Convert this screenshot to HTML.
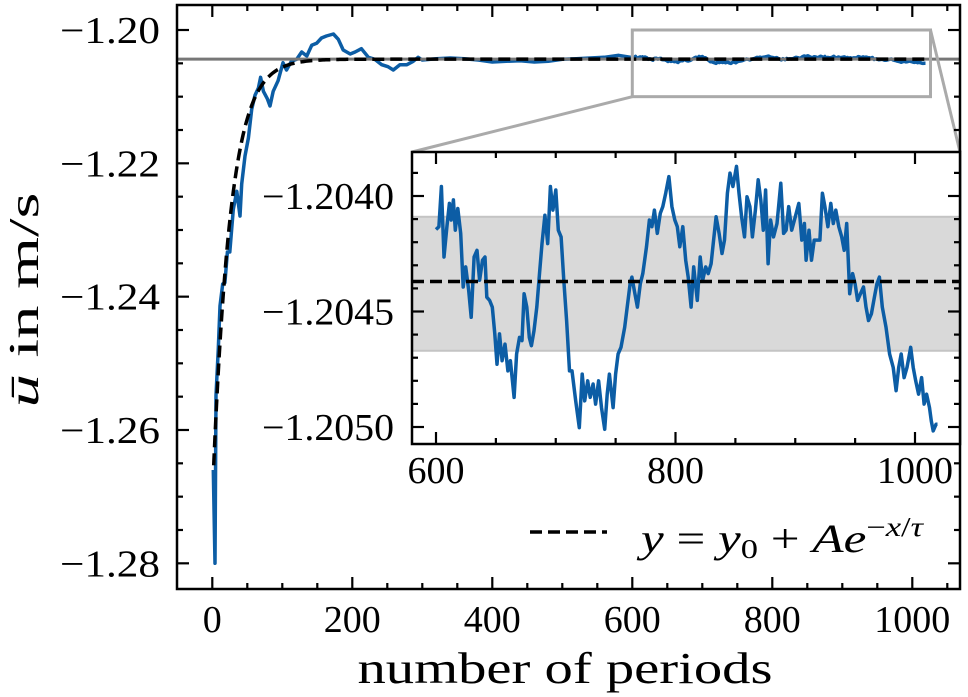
<!DOCTYPE html>
<html><head><meta charset="utf-8"><style>
html,body{margin:0;padding:0;background:#fff;}
svg{display:block;font-family:"Liberation Serif",serif;}
</style></head><body>
<svg id="chart" width="968" height="697" viewBox="0 0 968 697" xmlns="http://www.w3.org/2000/svg"></svg>
<script>
const mainX=[1.4,3.9,5.3,8.6,11,14.8,18,21.5,25,30,35,39.6,42,46.7,51.5,56.3,61,65.8,69,73,78.6,82.4,87,94,101,106,113,120.6,127.7,135,142,149,156,163,173,180,187,197,204,213,223,232,242,251,258.6,268,278,287,294,300,320,340,360,380,400,420,440,460,480,500,520,540,560,580,598];
const mainY=[-1.2660,-1.2800,-1.2548,-1.2478,-1.2414,-1.2381,-1.2379,-1.2333,-1.2333,-1.2269,-1.2242,-1.2279,-1.2231,-1.2189,-1.2162,-1.2119,-1.2098,-1.2087,-1.2071,-1.2092,-1.2103,-1.2114,-1.2092,-1.2076,-1.2049,-1.2060,-1.2047,-1.2044,-1.2033,-1.2039,-1.2023,-1.2020,-1.2012,-1.2009,-1.2006,-1.2014,-1.2030,-1.2036,-1.2033,-1.2028,-1.2041,-1.2044,-1.2052,-1.2055,-1.2060,-1.2052,-1.2052,-1.2047,-1.2041,-1.2045,-1.2043,-1.2042,-1.2043,-1.2045,-1.2048,-1.2047,-1.2046,-1.2048,-1.2047,-1.2044,-1.2043,-1.2042,-1.2041,-1.2038,-1.2041];
const insetX=[600,602.4,604.5,606.7,609.1,611.2,612.7,614.5,616.1,618.2,620.6,622.7,624.8,627.3,629.4,631.8,634.2,636.4,638.8,640.9,642.4,644.8,647.0,649.1,650.9,653.0,655.2,657.6,660.0,662.1,665.2,667.3,669.7,671.8,673.6,675.8,677.9,679.7,681.8,684.2,686.4,688.5,690.9,693.3,695.5,697.6,700.0,702.1,704.5,706.7,709.1,711.5,713.6,716.7,719.7,722.1,724.2,726.7,728.8,731.2,733.3,735.8,738.2,740.9,743.0,744.8,747.9,750.0,752.1,754.5,757.6,760.0,762.1,763.6,766.1,768.2,770.6,772.7,775.8,778.2,780.3,782.4,784.8,787.3,789.4,791.8,794.5,797.0,799.4,801.5,803.6,806.1,808.5,810.6,813.0,815.2,818.2,820.6,822.7,825.2,827.3,829.7,831.8,833.9,836.4,838.8,840.9,843.3,845.5,847.9,849.4,850.9,853.0,855.2,857.6,859.7,862.1,864.2,866.7,869.1,871.2,873.3,875.2,877.3,879.4,881.8,884.8,887.9,890.3,892.4,894.5,897.0,900.0,903.0,905.5,907.6,909.1,911.5,913.6,915.8,918.2,920.6,922.7,924.8,927.3,929.7,931.8,933.9,936.4,938.8,940.9,943.0,945.5,947.9,950.0,952.1,954.5,957.0,959.1,961.2,963.6,966.1,968.2,970.3,972.7,975.8,978.8,981.8,984.2,986.4,988.5,990.9,993.3,996.4,998.5,1000.6,1003.0,1005.5,1007.6,1009.7,1012.1,1013.6,1015.2,1017.6,1018.8];
const insetY=[-1.204145,-1.204133,-1.203959,-1.204264,-1.204133,-1.204032,-1.204104,-1.204017,-1.204148,-1.204054,-1.204162,-1.204394,-1.204307,-1.204409,-1.204525,-1.204264,-1.204235,-1.204365,-1.204278,-1.204264,-1.204438,-1.204452,-1.204481,-1.204597,-1.204728,-1.204597,-1.204713,-1.204641,-1.204757,-1.204713,-1.204872,-1.204684,-1.204612,-1.204626,-1.204423,-1.204481,-1.204612,-1.204648,-1.204583,-1.204481,-1.204336,-1.204206,-1.204083,-1.204206,-1.203959,-1.204061,-1.203974,-1.204148,-1.204177,-1.204365,-1.204539,-1.204757,-1.204757,-1.204887,-1.205003,-1.204771,-1.204887,-1.204800,-1.204872,-1.204814,-1.204901,-1.204800,-1.204916,-1.205010,-1.204858,-1.204771,-1.204916,-1.204771,-1.204684,-1.204655,-1.204568,-1.204467,-1.204380,-1.204351,-1.204423,-1.204481,-1.204380,-1.204336,-1.204220,-1.204104,-1.204133,-1.204061,-1.204162,-1.204075,-1.204046,-1.203988,-1.203916,-1.204046,-1.204104,-1.204133,-1.204220,-1.204133,-1.204278,-1.204351,-1.204481,-1.204307,-1.204452,-1.204264,-1.204365,-1.204307,-1.204336,-1.204293,-1.204191,-1.204090,-1.204162,-1.204249,-1.204191,-1.203988,-1.203901,-1.203959,-1.203916,-1.203872,-1.203988,-1.204090,-1.204177,-1.204003,-1.204046,-1.204177,-1.204061,-1.203930,-1.204017,-1.204148,-1.203974,-1.204293,-1.204104,-1.204177,-1.204119,-1.203945,-1.204162,-1.204148,-1.204046,-1.204148,-1.204090,-1.204032,-1.204191,-1.204119,-1.204278,-1.204148,-1.204278,-1.204191,-1.204191,-1.204191,-1.203988,-1.204046,-1.204133,-1.204032,-1.204119,-1.204061,-1.204133,-1.204177,-1.204235,-1.204119,-1.204423,-1.204336,-1.204380,-1.204452,-1.204423,-1.204394,-1.204481,-1.204539,-1.204510,-1.204438,-1.204380,-1.204351,-1.204481,-1.204568,-1.204684,-1.204742,-1.204843,-1.204742,-1.204684,-1.204786,-1.204742,-1.204655,-1.204742,-1.204800,-1.204858,-1.204786,-1.204901,-1.204858,-1.204916,-1.204974,-1.205017,-1.204988,-1.204988];
const fitParams=[-1.20437,-0.066,25];
const bandRange=[-1.20467,-1.20409];
const mainXTicks=[0,200,400,600,800,1000];
const mainXTickLabels=["0","200","400","600","800","1000"];
const mainYTicks=[-1.20,-1.22,-1.24,-1.26,-1.28];
const mainYTickLabels=["\u22121.20","\u22121.22","\u22121.24","\u22121.26","\u22121.28"];
const insetXTicks=[600,800,1000];
const insetXTickLabels=["600","800","1000"];
const insetYTicks=[-1.2040,-1.2045,-1.2050];
const insetYTickLabels=["\u22121.2040","\u22121.2045","\u22121.2050"];
const zoomBox=[600,1026,-1.210,-1.200];

const NS="http://www.w3.org/2000/svg";
const svg=document.getElementById('chart');
function mk(tag,attrs,parent){const e=document.createElementNS(NS,tag);for(const k in attrs)e.setAttribute(k,attrs[k]);(parent||svg).appendChild(e);return e;}
const M={l:177,r:960,t:5,b:589};
const mx=v=>212.3+(v-0)*0.7;
const my=v=>30+(-1.20-v)/0.02*133.33;
const I={l:412,r:960,t:152,b:444};
const ix=v=>436+(v-600)*(915-436)/400;
const iy=v=>196+(-1.2040-v)/0.001*231;
const blue="#0C5DA5";
const FS=38;

let d="";const allX=mainX.concat(insetX),allY=mainY.concat(insetY);
for(let i=0;i<allX.length;i++)d+=(i?"L":"M")+mx(allX[i]).toFixed(1)+","+my(allY[i]).toFixed(1);
let el=mk('path',{d:d,fill:'none',stroke:blue,'stroke-width':3.5,'stroke-linejoin':'round'});


el=mk('line',{x1:M.l,x2:M.r,y1:my(fitParams[0]),y2:my(fitParams[0]),stroke:'#777','stroke-width':3});


d="";for(let x=2;x<=1026;x+=2){const y=fitParams[0]+fitParams[1]*Math.exp(-x/fitParams[2]);d+=(x===2?"M":"L")+mx(x).toFixed(1)+","+my(y).toFixed(1);}
el=mk('path',{d:d,fill:'none',stroke:'#000','stroke-width':3.5,'stroke-dasharray':'12,6'});


const zx1=mx(zoomBox[0]),zx2=mx(zoomBox[1]),zy1=my(zoomBox[3]),zy2=my(zoomBox[2]);
el=mk('rect',{x:zx1,y:zy1,width:zx2-zx1,height:zy2-zy1,fill:'none',stroke:'#aaa','stroke-width':3});


el=mk('line',{x1:zx1,y1:zy2,x2:I.l,y2:I.t,stroke:'#aaa','stroke-width':3});


el=mk('line',{x1:zx2,y1:zy1,x2:I.r,y2:I.t,stroke:'#aaa','stroke-width':3});



function ticksFor(g,box,xs,xmin,xmax,xstep,fx,ys,ymin,ymax,ystep,fy,maj,mn){
  for(let v=xmin;v<=xmax+1e-9;v+=xstep){const p=fx(v);if(p<box.l||p>box.r)continue;const isM=xs.some(t=>Math.abs(t-v)<1e-6);const L=isM?maj:mn;
    mk('line',{x1:p,x2:p,y1:box.b,y2:box.b-L,stroke:'#000','stroke-width':2.2},g);mk('line',{x1:p,x2:p,y1:box.t,y2:box.t+L,stroke:'#000','stroke-width':2.2},g);}
  const n=Math.round((ymax-ymin)/ystep);
  for(let k=0;k<=n;k++){const v=ymin+k*ystep;const p=fy(v);if(p<box.t||p>box.b)continue;const isM=ys.some(t=>Math.abs(t-v)<1e-7);const L=isM?maj:mn;
    mk('line',{y1:p,y2:p,x1:box.l,x2:box.l+L,stroke:'#000','stroke-width':2.2},g);mk('line',{y1:p,y2:p,x1:box.r,x2:box.r-L,stroke:'#000','stroke-width':2.2},g);}
}
let g=mk('g',{});


ticksFor(g,M,mainXTicks,0,1050,50,mx,mainYTicks,-1.29,-1.195,0.005,my,12,6);
el=mk('rect',{x:M.l,y:M.t,width:M.r-M.l,height:M.b-M.t,fill:'none',stroke:'#000','stroke-width':2.5});


mainXTicks.forEach((v,i)=>{const t=mk('text',{x:mx(v),y:632,'font-size':FS,'text-anchor':'middle'});t.textContent=mainXTickLabels[i];

});
mainYTicks.forEach((v,i)=>{const t=mk('text',{x:160,y:my(v)+13,'font-size':FS,'text-anchor':'end',textLength:100,lengthAdjust:'spacingAndGlyphs'});t.textContent=mainYTickLabels[i];

});

g=mk('g',{});


mk('rect',{x:I.l,y:I.t,width:I.r-I.l,height:I.b-I.t,fill:'#fff'},g);
el=mk('rect',{x:I.l,y:iy(bandRange[1]),width:I.r-I.l,height:iy(bandRange[0])-iy(bandRange[1]),fill:'#d9d9d9',stroke:'#c4c4c4','stroke-width':2},g);


d="";for(let i=0;i<insetX.length;i++)d+=(i?"L":"M")+ix(insetX[i]).toFixed(1)+","+iy(insetY[i]).toFixed(1);
el=mk('path',{d:d,fill:'none',stroke:blue,'stroke-width':3.5,'stroke-linejoin':'round'},g);


el=mk('line',{x1:I.l,x2:I.r,y1:iy(fitParams[0]),y2:iy(fitParams[0]),stroke:'#000','stroke-width':3.5,'stroke-dasharray':'12,6'},g);


ticksFor(g,I,insetXTicks,550,1050,50,ix,insetYTicks,-1.2052,-1.2038,0.0001,iy,12,6);
mk('rect',{x:I.l,y:I.t,width:I.r-I.l,height:I.b-I.t,fill:'none',stroke:'#000','stroke-width':2.5},g);
insetXTicks.forEach((v,i)=>{const t=mk('text',{x:ix(v),y:483,'font-size':FS,'text-anchor':'middle'},g);t.textContent=insetXTickLabels[i];

});
insetYTicks.forEach((v,i)=>{const t=mk('text',{x:394,y:iy(v)+13,'font-size':FS,'text-anchor':'end',textLength:132,lengthAdjust:'spacingAndGlyphs'},g);t.textContent=insetYTickLabels[i];

});

g=mk('g',{});


mk('line',{x1:530,x2:607,y1:532,y2:532,stroke:'#000','stroke-width':3.5,'stroke-dasharray':'12,6'},g);
const lt=mk('text',{x:641,y:552,'font-size':40,textLength:282,lengthAdjust:'spacingAndGlyphs'},g);
lt.innerHTML='<tspan font-style="italic">y</tspan> = <tspan font-style="italic">y</tspan><tspan font-size="27" dy="6">0</tspan><tspan dy="-6"> + </tspan><tspan font-style="italic">Ae</tspan><tspan font-size="27" dy="-16">\u2212</tspan><tspan font-size="27" font-style="italic">x</tspan><tspan font-size="27">/</tspan><tspan font-size="27" font-style="italic">\u03c4</tspan>';

let t=mk('text',{x:565,y:683,'font-size':44,'text-anchor':'middle',textLength:415,lengthAdjust:'spacingAndGlyphs'});t.textContent='number of periods';


t=mk('text',{x:0,y:0,'font-size':42,'text-anchor':'middle',textLength:215,lengthAdjust:'spacingAndGlyphs',transform:'translate(38,300) rotate(-90)'});
t.innerHTML='<tspan font-style="italic">\u016b</tspan> in m/s';


</script>
</body></html>
